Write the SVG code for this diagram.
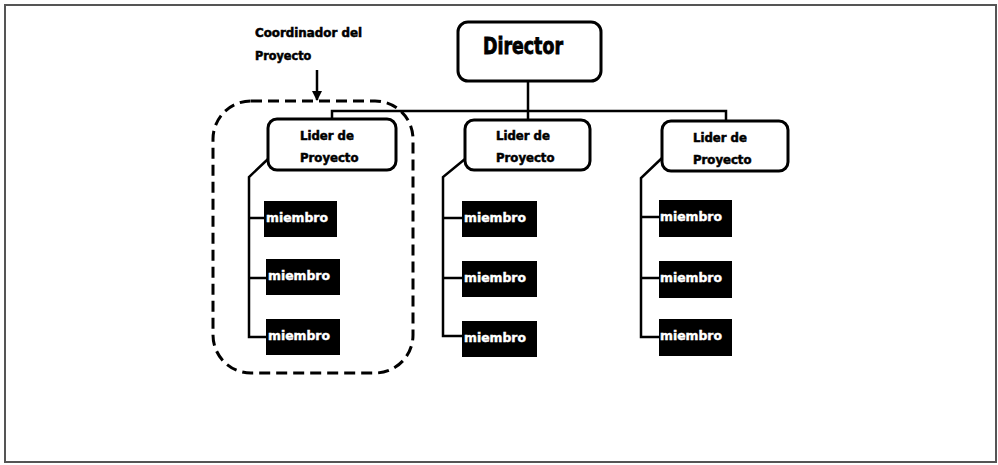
<svg xmlns="http://www.w3.org/2000/svg" width="998" height="465" viewBox="0 0 998 465">
  <defs>
    <marker id="arrow" viewBox="0 0 10 10" refX="9" refY="5" markerWidth="10" markerHeight="10" markerUnits="userSpaceOnUse" orient="auto">
      <path d="M0,0 L10,5 L0,10 Z" fill="#000"/>
    </marker>
  </defs>
  <style>
    .frame { fill: #fff; stroke: #555; stroke-width: 2; }
    .box { fill: #fff; stroke: #000; stroke-width: 3; }
    .member { fill: #000; stroke: none; }
    .line { fill: none; stroke: #000; stroke-width: 2.5; }
    .group { fill: none; stroke: #000; stroke-width: 3; stroke-dasharray: 11 6; }
    .t { font-family: "DejaVu Sans Condensed", "Liberation Sans Narrow", "Liberation Sans", sans-serif; font-weight: bold; fill: #000; stroke: #000; stroke-width: 0.5; }
    .title { font-size: 23px; stroke-width: 0.8; }
    .lead { font-size: 13px; }
    .mem { font-size: 13px; fill: #fff; stroke: #fff; stroke-width: 0.4; }
    .note { font-size: 12.5px; }
  </style>

  <!-- page frame -->
  <rect class="frame" x="5" y="5" width="991" height="457"/>

  <!-- connectors -->
  <g id="connectors">
    <!-- director to leaders -->
    <path class="line" d="M528,82 V119"/>
    <path class="line" d="M332,119 V111 H726 V120"/>
    <!-- left team -->
    <path class="line" d="M268,159 L249,177 V337 H266"/>
    <path class="line" d="M249,218 H264"/>
    <path class="line" d="M249,278 H266"/>
    <!-- middle team -->
    <path class="line" d="M465,159 L443,177 V336 H462"/>
    <path class="line" d="M443,218 H462"/>
    <path class="line" d="M443,278 H462"/>
    <!-- right team -->
    <path class="line" d="M662,158 L641,178 V337 H659"/>
    <path class="line" d="M641,217 H659"/>
    <path class="line" d="M641,278 H659"/>
    <!-- annotation arrow -->
    <path class="line" d="M317,70 V100" marker-end="url(#arrow)"/>
  </g>

  <!-- project coordinator grouping -->
  <g id="coordinator">
    <rect class="group" x="213" y="101" width="200" height="272" rx="38" ry="38"/>
    <text class="t note" x="255" y="37" textLength="107" lengthAdjust="spacingAndGlyphs">Coordinador del</text>
    <text class="t note" x="255" y="60">Proyecto</text>
  </g>

  <!-- director -->
  <g id="director">
    <rect class="box" x="458" y="22" width="143" height="59" rx="10" ry="10"/>
    <text class="t title" x="483" y="54" textLength="80" lengthAdjust="spacingAndGlyphs">Director</text>
  </g>

  <!-- project leaders -->
  <g id="leader-1">
    <rect class="box" x="268" y="119" width="128" height="51" rx="9" ry="9"/>
    <text class="t lead" x="300" y="140">Lider de</text>
    <text class="t lead" x="300" y="162">Proyecto</text>
  </g>
  <g id="leader-2">
    <rect class="box" x="465" y="120" width="125" height="50" rx="9" ry="9"/>
    <text class="t lead" x="496" y="140">Lider de</text>
    <text class="t lead" x="496" y="162">Proyecto</text>
  </g>
  <g id="leader-3">
    <rect class="box" x="662" y="121" width="126" height="50" rx="9" ry="9"/>
    <text class="t lead" x="693" y="142">Lider de</text>
    <text class="t lead" x="693" y="164">Proyecto</text>
  </g>

  <!-- team members -->
  <g id="member-1a">
    <rect class="member" x="264" y="201" width="73" height="36"/>
    <text class="t mem" x="266" y="222" textLength="62" lengthAdjust="spacingAndGlyphs">miembro</text>
  </g>
  <g id="member-1b">
    <rect class="member" x="266" y="259" width="74" height="36"/>
    <text class="t mem" x="268" y="280" textLength="62" lengthAdjust="spacingAndGlyphs">miembro</text>
  </g>
  <g id="member-1c">
    <rect class="member" x="266" y="319" width="74" height="36"/>
    <text class="t mem" x="268" y="340" textLength="62" lengthAdjust="spacingAndGlyphs">miembro</text>
  </g>
  <g id="member-2a">
    <rect class="member" x="462" y="201" width="75" height="36"/>
    <text class="t mem" x="464" y="222" textLength="62" lengthAdjust="spacingAndGlyphs">miembro</text>
  </g>
  <g id="member-2b">
    <rect class="member" x="462" y="261" width="75" height="36"/>
    <text class="t mem" x="464" y="282" textLength="62" lengthAdjust="spacingAndGlyphs">miembro</text>
  </g>
  <g id="member-2c">
    <rect class="member" x="462" y="321" width="75" height="36"/>
    <text class="t mem" x="464" y="342" textLength="62" lengthAdjust="spacingAndGlyphs">miembro</text>
  </g>
  <g id="member-3a">
    <rect class="member" x="659" y="200" width="73" height="37"/>
    <text class="t mem" x="660" y="221" textLength="62" lengthAdjust="spacingAndGlyphs">miembro</text>
  </g>
  <g id="member-3b">
    <rect class="member" x="659" y="261" width="73" height="37"/>
    <text class="t mem" x="660" y="282" textLength="62" lengthAdjust="spacingAndGlyphs">miembro</text>
  </g>
  <g id="member-3c">
    <rect class="member" x="659" y="319" width="73" height="37"/>
    <text class="t mem" x="660" y="340" textLength="62" lengthAdjust="spacingAndGlyphs">miembro</text>
  </g>
</svg>
